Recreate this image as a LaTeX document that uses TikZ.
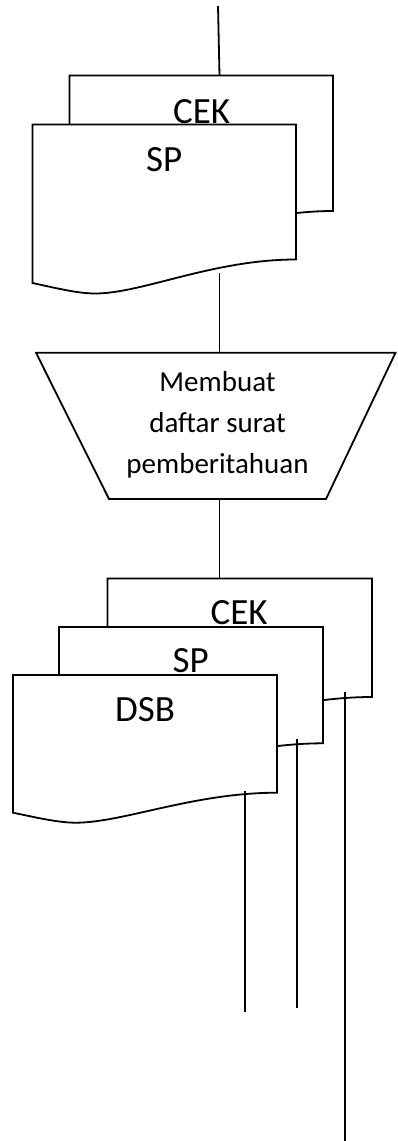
\documentclass[tikz,border=0pt]{standalone}
\usepackage{fontspec}
\setmainfont{Carlito}
\usetikzlibrary{calc}

% document sheet: top-left (x,y), width, height to the right-hand bottom corner,
% drop of the left-hand bottom corner, depth of the wave trough
\newcommand\docsheet[6]{%
  \begin{scope}[shift={(#1,#2)}]
    \filldraw[sheet] (0,0) -- (#3,0) -- (#3,#4)
      .. controls ({0.683*#3},#4) and ({0.417*#3},{#4+#6}) .. ({0.237*#3},{#4+#6})
      .. controls ({0.171*#3},{#4+#6}) and ({0.083*#3},{#4+#5+0.45*(#6-#5)}) .. (0,{#4+#5})
      -- cycle;
  \end{scope}}

\tikzset{
  sheet/.style={draw=black, fill=white, line width=1.8pt, line join=miter},
  flow/.style={draw=black, line width=1.8pt},
  doclabel/.style={font=\fontsize{37}{44}\selectfont, inner sep=0pt, anchor=base},
  proclabel/.style={font=\fontsize{29}{40.8}\selectfont, inner sep=0pt, align=center, anchor=base},
}

\begin{document}
\begin{tikzpicture}[x=1pt,y=-1pt]
\useasboundingbox (0,0) rectangle (397,1141);

% incoming flow
\coordinate (in) at (218,6);
\coordinate (cekA-top) at (219.5,75.5);
\draw[flow] (in) -- (cekA-top);

% first document pair
\docsheet{69.5}{75.5}{263.5}{135.5}{23.5}{34}
\node[doclabel] (cekA) at (201.7,123) {CEK};
\docsheet{32.5}{124.5}{263.5}{135}{23.5}{34}
\node[doclabel] (spA) at (164.2,171.7) {SP};

% manual operation (label anchored on the baseline of its last line)
\coordinate (spA-out) at (219.5,273);
\coordinate (proc-top) at (219.5,352.7);
\coordinate (proc-bot) at (219.5,499);
\draw[sheet] (36,352.7) -- (395.5,352.7) -- (326,499) -- (109,499) -- cycle;
\node[proclabel] (proc) at (217.5,473.3) {Membuat\\daftar surat\\pemberitahuan};
\draw[flow] (spA-out) -- (proc-top);

% resulting documents
\coordinate (cekB-top) at (219.5,578.5);
\draw[flow] (proc-bot) -- (cekB-top);
\docsheet{107.5}{578.5}{264.5}{118.5}{20}{30}
\node[doclabel] (cekB) at (239.2,624.3) {CEK};
\docsheet{59}{627}{264}{116.3}{20}{30}
\node[doclabel] (spB) at (190.8,672.7) {SP};
\docsheet{13}{675}{264}{117.7}{20}{30}
\node[doclabel] (dsb) at (145,721.7) {DSB};

% outgoing flows
\coordinate (dsb-out) at (245,790.7);
\coordinate (dsb-end) at (245,1012.3);
\coordinate (spB-out) at (297.3,739);
\coordinate (spB-end) at (297.3,1008.3);
\coordinate (cekB-out) at (345.3,692.3);
\coordinate (cekB-end) at (345.3,1141);
\draw[flow] (dsb-out) -- (dsb-end);
\draw[flow] (spB-out) -- (spB-end);
\draw[flow] (cekB-out) -- (cekB-end);
\end{tikzpicture}
\end{document}
